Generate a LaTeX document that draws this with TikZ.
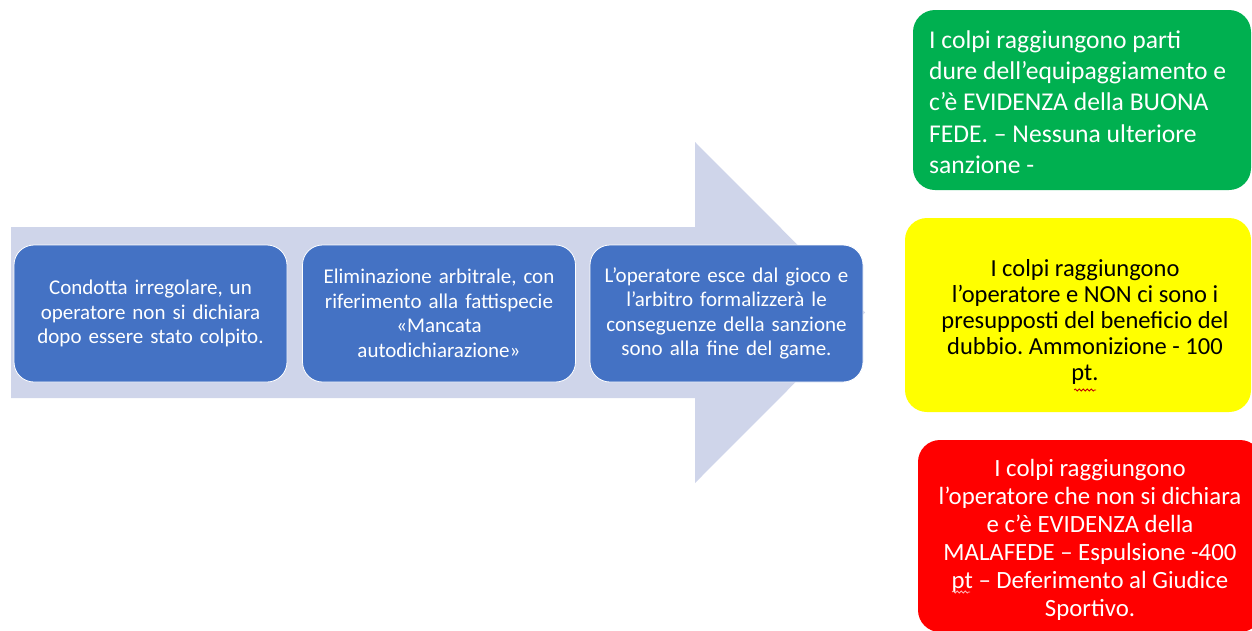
\documentclass[tikz,border=0pt]{standalone}
\usepackage{fontspec}
\setmainfont{Carlito}
\frenchspacing
\usetikzlibrary{decorations.pathmorphing}
\definecolor{arrowfill}{HTML}{CFD5EA}
\definecolor{stepblue}{HTML}{4472C4}
\definecolor{boxgreen}{HTML}{00B050}
\definecolor{boxyellow}{HTML}{FFFF00}
\definecolor{boxred}{HTML}{FF0000}
\definecolor{spellred}{HTML}{C00000}
\tikzset{
  stepbox/.style={rectangle, rounded corners=20pt, fill=stepblue, draw=white, line width=0.8pt,
    minimum width=273pt, minimum height=137pt, text width=262pt, align=center, text=white,
    font=\fontsize{21}{24.5}\selectfont, inner sep=0pt},
  outbox/.style={rectangle, rounded corners=22pt, inner sep=0pt},
  outtext/.style={inner sep=0pt, align=center},
  spellmark/.style={draw=spellred, line width=0.8pt, decorate, decoration={snake, amplitude=1pt, segment length=4pt}}
}
\begin{document}
\begin{tikzpicture}[x=1pt,y=-1pt]
\useasboundingbox (0,0) rectangle (1252,630);
\clip (0,0) rectangle (1252,630);
% big background arrow
\fill[arrowfill] (11,227) -- (695,227) -- (695,142) -- (865,312.5) -- (695,483) -- (695,398) -- (11,398) -- cycle;
% steps
\node[stepbox] (s1) at (150.5,313.5) {Condotta irregolare, un\\operatore non si dichiara\\dopo essere stato colpito.};
\node[stepbox] (s2) at (439,313.5) {Eliminazione arbitrale, con\\riferimento alla fattispecie\\«Mancata\\autodichiarazione»};
\node[stepbox] (s3) at (726.5,313.5) {L’operatore esce dal gioco e\\l’arbitro formalizzerà le\\conseguenze della sanzione\\sono alla fine del game.};
% outcome boxes
\node[outbox, fill=boxgreen, minimum width=338pt, minimum height=180pt] (g) at (1082,100) {};
\node[outtext, align=left, text=white, font=\fontsize{25.6}{31.2}\selectfont, anchor=west] (gt) at (929,102)
  {I colpi raggiungono parti\\dure dell’equipaggiamento e\\c’è EVIDENZA della BUONA\\FEDE. – Nessuna ulteriore\\sanzione -};
\node[outbox, fill=boxyellow, minimum width=346pt, minimum height=194pt] (y) at (1078,315) {};
\node[outtext, text=black, font=\fontsize{24.5}{25.8}\selectfont] (yt) at (1085,322)
  {I colpi raggiungono\\l’operatore e NON ci sono i\\presupposti del beneficio del\\dubbio. Ammonizione - 100\\pt.};
\node[outbox, fill=boxred, minimum width=344pt, minimum height=192pt] (r) at (1090,536) {};
\node[outtext, text=white, font=\fontsize{24.8}{28}\selectfont] (rt) at (1090,540)
  {I colpi raggiungono\\l’operatore che non si dichiara\\e c’è EVIDENZA della\\MALAFEDE – Espulsione -400\\pt – Deferimento al Giudice\\Sportivo.};
% spell-check marks
\draw[spellmark] (1074,390) -- (1096,390);
\draw[spellmark, draw=white!70!boxred] (952,592) -- (970,592);
\end{tikzpicture}
\end{document}
